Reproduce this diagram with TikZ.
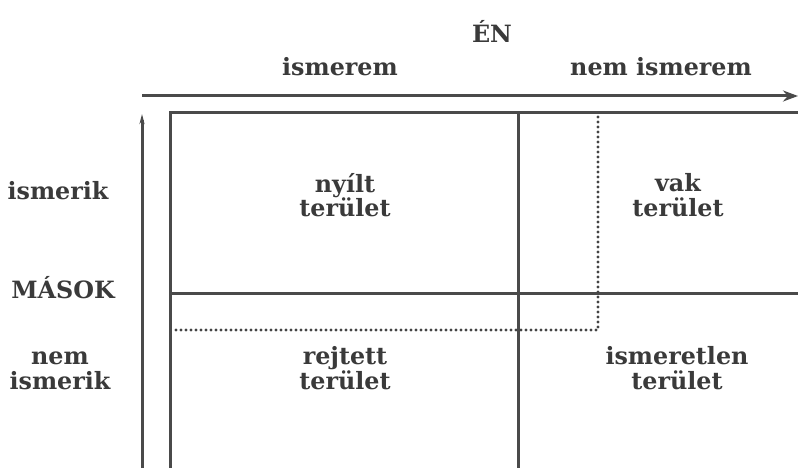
\documentclass[tikz,border=0pt]{standalone}
\usepackage{fontspec}
\setmainfont{DejaVu Serif}
\usetikzlibrary{arrows.meta}
\definecolor{ink}{HTML}{3A3A3A}
\definecolor{linec}{HTML}{4A4A4A}
\tikzset{
  lbl/.style={text=ink, font=\bfseries\fontsize{23.8}{24.5}\selectfont, align=center, inner sep=0pt},
  frame/.style={draw=linec, line width=3pt},
  dotline/.style={draw=linec!90!black, line width=3.2pt, line cap=round, dash pattern=on 0pt off 5pt},
}
\begin{document}
\begin{tikzpicture}[x=1pt,y=-1pt]
\useasboundingbox (0,0) rectangle (798,468);
% axes
\coordinate (hx0) at (142,96);
\coordinate (hx1) at (798,96);
\coordinate (vy0) at (142,468);
\coordinate (vy1) at (142,114);
\draw[frame, -{Stealth[length=15pt,width=11pt]}] (hx0) -- (hx1);
\draw[frame, -{Stealth[length=10pt,width=5pt]}] (vy0) -- (vy1);
% frame
\coordinate (tl) at (170,113);
\coordinate (tr) at (798,113);
\coordinate (bl) at (170,468);
\coordinate (mt) at (518,113);
\coordinate (mb) at (518,468);
\coordinate (ml) at (170,293);
\coordinate (mr) at (798,293);
\draw[frame] (bl) -- (tl) -- (tr);
\draw[frame] (mt) -- (mb);
\draw[frame] (ml) -- (mr);
% dotted
\coordinate (dt) at (598,117);
\coordinate (dc) at (598,330);
\coordinate (dl) at (173,330);
\draw[dotline] (dt) -- (dc) -- (dl);
% labels
\node[lbl] (en) at (492,31) {ÉN};
\node[lbl] (ism) at (340,67) {ismerem};
\node[lbl] (nism) at (661,67) {nem ismerem};
\node[lbl] (ik) at (58,191) {ismerik};
\node[lbl] (masok) at (63,288) {MÁSOK};
\node[lbl] (nik) at (60,371) {nem\\ismerik};
\node[lbl] (q1) at (345,195) {nyílt\\terület};
\node[lbl] (q2) at (678,195) {vak\\terület};
\node[lbl] (q3) at (345,368) {rejtett\\terület};
\node[lbl] (q4) at (677,368) {ismeretlen\\terület};
\end{tikzpicture}
\end{document}
